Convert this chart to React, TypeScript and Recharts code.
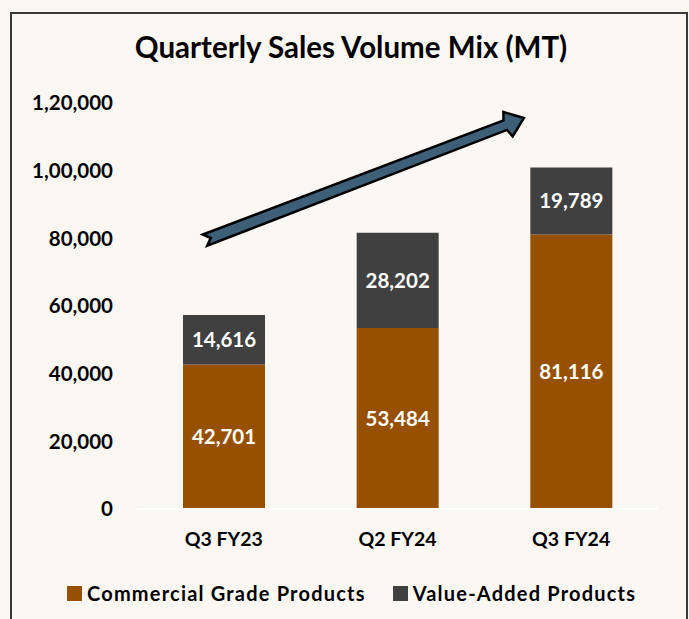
import React from 'react';
import { BarChart, Bar, XAxis, YAxis, LabelList, ReferenceLine } from 'recharts';

const quarters = ['Q3 FY23', 'Q2 FY24', 'Q3 FY24'];
const commercialGrade = [42701, 53484, 81116];
const valueAdded = [14616, 28202, 19789];
const yTicks = [0, 20000, 40000, 60000, 80000, 100000, 120000];
const seriesNames = ['Commercial Grade Products', 'Value-Added Products'];
const seriesColors = ['#974F00', '#404040'];

// trend arrow, anchored on the first and last quarter
const arrowFrom = 81600;
const arrowTo = 120900;

const FONT = 'Lato, "Open Sans", sans-serif';
const BG = '#FBF8F3';

const data = quarters.map((q, i) => ({
  quarter: q,
  commercial: commercialGrade[i],
  valueAdded: valueAdded[i],
}));

// Indian digit grouping: 1,20,000
const formatIndian = (v: number) => {
  const s = String(Math.round(v));
  if (s.length <= 3) return s;
  const last3 = s.slice(-3);
  const rest = s.slice(0, -3).replace(/\B(?=(\d{2})+(?!\d))/g, ',');
  return rest + ',' + last3;
};

const ArrowShape = (props: any) => {
  const { x1, y1, x2, y2 } = props;
  if ([x1, y1, x2, y2].some((v) => typeof v !== 'number' || isNaN(v))) return null;
  const dx = x2 - x1;
  const dy = y2 - y1;
  const L = Math.hypot(dx, dy);
  const ux = dx / L;
  const uy = dy / L;
  const nx = -uy;
  const ny = ux;
  const t0 = -0.054;
  const t1 = 0.864;
  const tx = x1 + dx * t0;
  const ty = y1 + dy * t0;
  const len = L * (t1 - t0);
  const headLen = 20;
  const bh = 5;
  const hh = 13;
  const notch = 6;
  const local: [number, number][] = [
    [0, -bh - 1],
    [len - headLen, -bh],
    [len - headLen + 3, -hh],
    [len, 0],
    [len - headLen + 3, hh],
    [len - headLen, bh],
    [0, bh + 1],
    [notch, 0],
  ];
  const pts = local
    .map(([s, w]) => `${(tx + s * ux + w * nx).toFixed(1)},${(ty + s * uy + w * ny).toFixed(1)}`)
    .join(' ');
  return <polygon points={pts} fill="#3D6078" stroke="#000000" strokeWidth={2.5} strokeLinejoin="miter" />;
};

const App: React.FC = () => {
  return (
    <div
      style={{
        position: 'absolute',
        left: 0,
        top: 0,
        width: 689,
        height: 619,
        background: BG,
        overflow: 'hidden',
        fontFamily: FONT,
      }}
    >
      <div
        style={{
          position: 'absolute',
          left: 10,
          top: 12,
          width: 674,
          height: 660,
          border: '2px solid #3A3A3A',
        }}
      />
      <div
        style={{
          position: 'absolute',
          top: 29,
          left: 0,
          width: 702,
          textAlign: 'center',
          fontSize: 29.5,
          fontWeight: 700,
          color: '#000',
        }}
      >
        Quarterly Sales Volume Mix (MT)
      </div>
      <div style={{ position: 'absolute', left: 0, top: 0 }}>
        <BarChart
          width={689}
          height={619}
          data={data}
          margin={{ top: 103, right: 31, bottom: 80, left: 0 }}
        >
          <XAxis
            dataKey="quarter"
            height={30}
            axisLine={{ stroke: '#FFFFFF', strokeWidth: 2 }}
            tickLine={false}
            tickSize={0}
            tickMargin={23}
            tick={{ fill: '#000', fontSize: 19.5, fontWeight: 700, fontFamily: FONT }}
          />
          <YAxis
            width={137}
            domain={[0, 120000]}
            ticks={yTicks}
            axisLine={false}
            tickLine={false}
            tickSize={0}
            tickMargin={24}
            tickFormatter={formatIndian}
            tick={{ fill: '#000', fontSize: 20.5, fontWeight: 700, fontFamily: FONT }}
          />
          <Bar dataKey="commercial" stackId="a" fill={seriesColors[0]} barSize={82} isAnimationActive={false}>
            <LabelList
              dataKey="commercial"
              position="center"
              formatter={(v: any) => Number(v).toLocaleString('en-US')}
              style={{ fill: '#FFFFFF', fontSize: 20.5, fontWeight: 700, fontFamily: FONT }}
            />
          </Bar>
          <Bar dataKey="valueAdded" stackId="a" fill={seriesColors[1]} barSize={82} isAnimationActive={false}>
            <LabelList
              dataKey="valueAdded"
              position="center"
              formatter={(v: any) => Number(v).toLocaleString('en-US')}
              style={{ fill: '#FFFFFF', fontSize: 20.5, fontWeight: 700, fontFamily: FONT }}
            />
          </Bar>
          <ReferenceLine
            segment={[
              { x: quarters[0], y: arrowFrom },
              { x: quarters[quarters.length - 1], y: arrowTo },
            ]}
            ifOverflow="visible"
            shape={ArrowShape}
          />
        </BarChart>
      </div>
      <div
        style={{
          position: 'absolute',
          top: 581,
          left: 67,
          display: 'flex',
          alignItems: 'center',
          fontSize: 20,
          fontWeight: 700,
          color: '#000',
          letterSpacing: 1.2,
          whiteSpace: 'nowrap',
        }}
      >
        {seriesNames.map((name, i) => (
          <div key={name} style={{ display: 'flex', alignItems: 'center', marginRight: i === 0 ? 27 : 0 }}>
            <span style={{ width: 15, height: 15, background: seriesColors[i], marginRight: 5, display: 'inline-block' }} />
            <span>{name}</span>
          </div>
        ))}
      </div>
    </div>
  );
};

export default App;
